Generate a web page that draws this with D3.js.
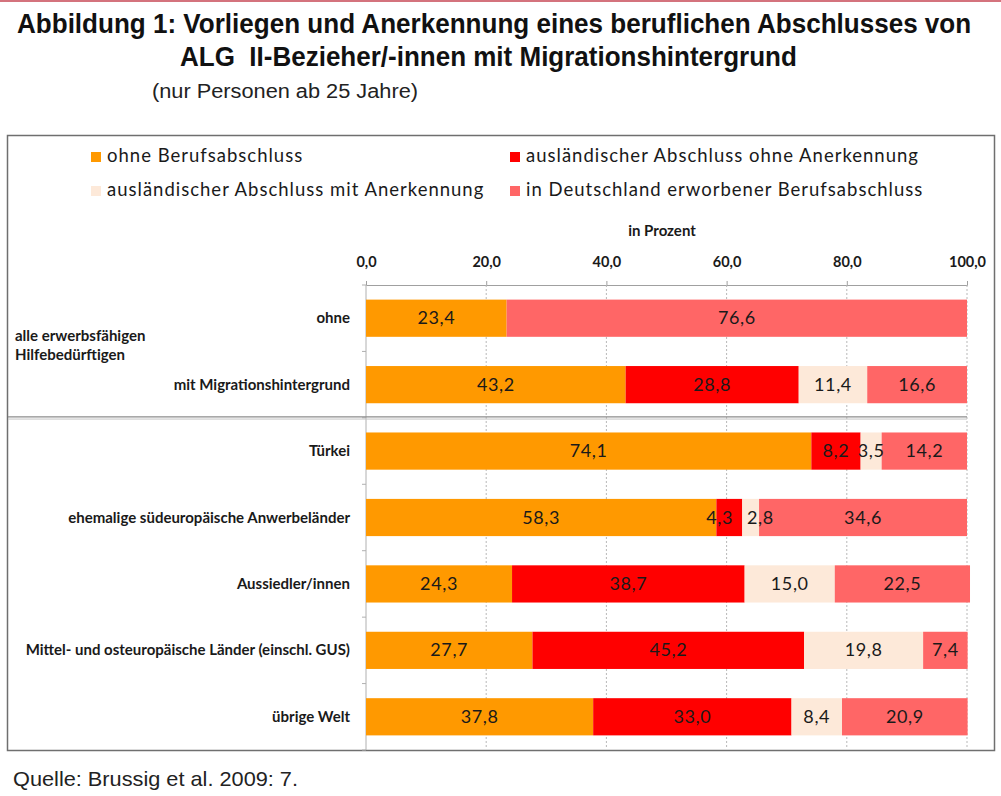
<!DOCTYPE html>
<html>
<head>
<meta charset="utf-8">
<script src="https://cdnjs.cloudflare.com/ajax/libs/d3/7.8.5/d3.min.js"></script>
<style>
  body { margin: 0; background: #fff; }
  svg { display: block; }
  .title { font-family: "Liberation Sans", Arial, sans-serif; font-weight: bold; fill: #111; white-space: pre; }
  .sub { font-family: "Liberation Sans", Arial, sans-serif; fill: #222; }
  .cal { font-family: Lato, "Open Sans", sans-serif; fill: #1a1a1a; }
</style>
</head>
<body>
<div id="chart"></div>
<script>
const W = 1001, H = 796;

// data
const categories = [
  'ohne',
  'mit Migrationshintergrund',
  'Türkei',
  'ehemalige südeuropäische Anwerbeländer',
  'Aussiedler/innen',
  'Mittel- und osteuropäische Länder (einschl. GUS)',
  'übrige Welt'
];
const seriesNames = [
  'ohne Berufsabschluss',
  'ausländischer Abschluss ohne Anerkennung',
  'ausländischer Abschluss mit Anerkennung',
  'in Deutschland erworbener Berufsabschluss'
];
const ohneAbschluss   = [23.4, 43.2, 74.1, 58.3, 24.3, 27.7, 37.8];
const ohneAnerkennung = [0,    28.8, 8.2,  4.3,  38.7, 45.2, 33.0];
const mitAnerkennung  = [0,    11.4, 3.5,  2.8,  15.0, 19.8, 8.4];
const inDeutschland   = [76.6, 16.6, 14.2, 34.6, 22.5, 7.4,  20.9];
const xTicks = [0, 20, 40, 60, 80, 100];
const colors = ['#ff9900', '#ff0000', '#fde9d9', '#ff6666'];

const svg = d3.select('#chart').append('svg')
  .attr('width', W).attr('height', H);

// pink rule at very top
svg.append('rect').attr('x', 0).attr('y', 0).attr('width', W).attr('height', 2)
  .attr('fill', '#d4737d');

// condensed title line: fit the width, then stretch vertically
function condensed(txt, x0, y0, width, visualSize) {
  const t = svg.append('text').attr('class', 'title').attr('font-size', 20).text(txt);
  const f = 20 * width / t.node().getComputedTextLength();
  t.attr('font-size', f)
    .attr('transform', `translate(${x0},${y0}) scale(1,${visualSize / f})`);
}
condensed('Abbildung 1: Vorliegen und Anerkennung eines beruflichen Abschlusses von', 17, 33, 955, 27);
condensed('ALG  II-Bezieher/-innen mit Migrationshintergrund', 180, 66, 617, 27);

svg.append('text').attr('class', 'sub')
  .attr('x', 152).attr('y', 98).attr('font-size', 20)
  .attr('textLength', 266).attr('lengthAdjust', 'spacingAndGlyphs')
  .text('(nur Personen ab 25 Jahre)');
svg.append('text').attr('class', 'sub')
  .attr('x', 13).attr('y', 786).attr('font-size', 21)
  .attr('textLength', 285).attr('lengthAdjust', 'spacingAndGlyphs')
  .text('Quelle: Brussig et al. 2009: 7.');

// frame
svg.append('rect').attr('x', 7.5).attr('y', 135.5).attr('width', 987).attr('height', 615)
  .attr('fill', 'none').attr('stroke', '#6f6f6f').attr('stroke-width', 1.5);

// legend
const legPos = [[91, 162], [510, 162], [91, 196], [510, 196]];
const leg = svg.append('g').selectAll('g').data(seriesNames).join('g')
  .attr('transform', (d, i) => `translate(${legPos[i][0]},${legPos[i][1]})`);
leg.append('rect').attr('x', 0).attr('y', -10).attr('width', 10).attr('height', 10)
  .attr('fill', (d, i) => colors[i]);
leg.append('text').attr('class', 'cal').attr('x', 16).attr('y', 0)
  .attr('font-size', 18.5).attr('letter-spacing', 1)
  .text(d => d);

// scales
const x = d3.scaleLinear().domain([0, 100]).range([366, 967]);
const y = d3.scaleBand().domain(categories).range([285, 750])
  .paddingInner(0.44).paddingOuter(0.22);

// x axis label + ticks
svg.append('text').attr('class', 'cal').attr('x', 662).attr('y', 236)
  .attr('text-anchor', 'middle').attr('font-size', 15).attr('font-weight', 'bold')
  .text('in Prozent');

const xAxis = svg.append('g').attr('transform', 'translate(0,285)')
  .call(d3.axisTop(x).tickValues(xTicks).tickSize(4).tickPadding(14)
    .tickFormat(d => d3.format('.1f')(d).replace('.', ',')));
xAxis.select('.domain').attr('stroke', '#a0a0a0');
xAxis.selectAll('.tick line').attr('stroke', '#a0a0a0');
xAxis.selectAll('.tick text').attr('class', 'cal').attr('font-size', 14.5)
  .attr('font-weight', 'bold').attr('fill', '#1a1a1a');

// dotted gridlines
svg.append('g').selectAll('line').data(xTicks.slice(1)).join('line')
  .attr('x1', d => x(d)).attr('x2', d => x(d))
  .attr('y1', 285).attr('y2', 749)
  .attr('stroke', '#b8b8b8').attr('stroke-dasharray', '2,2');

// left axis line with ticks between categories
svg.append('line').attr('x1', x(0)).attr('x2', x(0)).attr('y1', 285).attr('y2', 750)
  .attr('stroke', '#b0b0b0');
const step = y.step();
svg.append('g').selectAll('line').data(d3.range(categories.length + 1)).join('line')
  .attr('x1', x(0) - 4).attr('x2', x(0))
  .attr('y1', i => 285 + i * step).attr('y2', i => 285 + i * step)
  .attr('stroke', '#b0b0b0');

// separator between the two groups (double line)
const sepY = 285 + 2 * step;
svg.append('line').attr('x1', 8).attr('x2', x(100)).attr('y1', sepY - 1).attr('y2', sepY - 1)
  .attr('stroke', '#8c8c8c').attr('stroke-width', 1.2);
svg.append('line').attr('x1', 8).attr('x2', x(100)).attr('y1', sepY + 1.2).attr('y2', sepY + 1.2)
  .attr('stroke', '#c4c4c4').attr('stroke-width', 1);

// stacked bars
const table = categories.map((c, i) => ({
  cat: c,
  s0: ohneAbschluss[i], s1: ohneAnerkennung[i], s2: mitAnerkennung[i], s3: inDeutschland[i]
}));
const stacked = d3.stack().keys(['s0', 's1', 's2', 's3'])(table);

const layers = svg.append('g').selectAll('g').data(stacked).join('g')
  .attr('fill', (d, i) => colors[i]);
layers.selectAll('rect').data(d => d.filter(p => p[1] - p[0] > 0)).join('rect')
  .attr('x', d => x(d[0]))
  .attr('width', d => x(d[1]) - x(d[0]))
  .attr('y', d => y(d.data.cat))
  .attr('height', y.bandwidth());

// value labels, centred; pushed apart where neighbours collide
const labels = svg.append('g');
categories.forEach(cat => {
  const row = [];
  stacked.forEach(layer => {
    const p = layer.find(q => q.data.cat === cat);
    const v = p[1] - p[0];
    if (v <= 0) return;
    const t = labels.append('text').attr('class', 'cal')
      .attr('x', (x(p[0]) + x(p[1])) / 2)
      .attr('y', y(cat) + y.bandwidth() / 2 + 6)
      .attr('text-anchor', 'middle').attr('font-size', 18).attr('letter-spacing', 0.6)
      .text(d3.format('.1f')(v).replace('.', ','));
    row.push({ t, cx: (x(p[0]) + x(p[1])) / 2, w: t.node().getComputedTextLength() });
  });
  for (let i = 1; i < row.length; i++) {
    const a = row[i - 1], b = row[i];
    const overlap = (a.cx + a.w / 2) - (b.cx - b.w / 2) + 14;
    if (overlap > 14) {
      a.cx -= overlap / 2; b.cx += overlap / 2;
      a.t.attr('x', a.cx); b.t.attr('x', b.cx);
    }
  }
});

// category labels
svg.append('g').selectAll('text').data(categories).join('text')
  .attr('class', 'cal')
  .attr('x', 350).attr('y', d => y(d) + y.bandwidth() / 2 + 5)
  .attr('text-anchor', 'end').attr('font-size', 15).attr('font-weight', 'bold')
  .text(d => d);

// group label
svg.append('text').attr('class', 'cal').attr('x', 15).attr('y', 341)
  .attr('font-size', 15).attr('font-weight', 'bold').text('alle erwerbsfähigen');
svg.append('text').attr('class', 'cal').attr('x', 15).attr('y', 360)
  .attr('font-size', 15).attr('font-weight', 'bold').text('Hilfebedürftigen');
</script>
</body>
</html>
